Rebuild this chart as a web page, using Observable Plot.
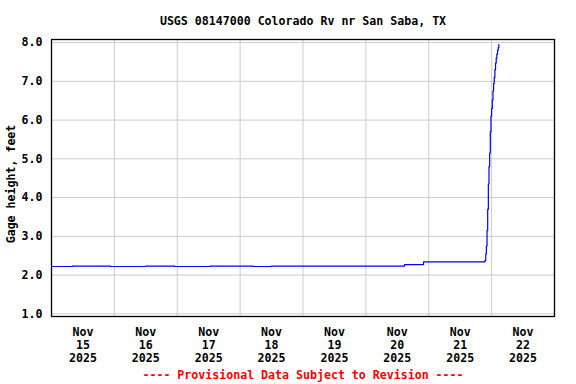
<!DOCTYPE html>
<html>
<head>
<meta charset="utf-8">
<script src="https://cdn.jsdelivr.net/npm/d3@7"></script>
<script src="https://cdn.jsdelivr.net/npm/@observablehq/plot@0.6"></script>
<style>
  html, body { margin: 0; padding: 0; background: #fff; }
</style>
</head>
<body>
<div id="chart"></div>
<script>
// ---- Data, UTC timestamps ----
const times = [
  "2025-11-15T00:00", "2025-11-15T08:00", "2025-11-15T22:30", "2025-11-16T12:00",
  "2025-11-16T23:00", "2025-11-17T12:30", "2025-11-18T05:00", "2025-11-18T12:00",
  "2025-11-20T14:45", "2025-11-20T22:00",
  "2025-11-21T21:00", "2025-11-21T21:15", "2025-11-21T21:30", "2025-11-21T21:45",
  "2025-11-21T22:00", "2025-11-21T22:15", "2025-11-21T22:30", "2025-11-21T22:45",
  "2025-11-21T23:00", "2025-11-21T23:15", "2025-11-21T23:30", "2025-11-21T23:45",
  "2025-11-22T00:00", "2025-11-22T00:15", "2025-11-22T00:30", "2025-11-22T00:45",
  "2025-11-22T01:00", "2025-11-22T01:15", "2025-11-22T01:30", "2025-11-22T01:45",
  "2025-11-22T02:00", "2025-11-22T02:15", "2025-11-22T02:30", "2025-11-22T02:45"
];
const values = [
  2.22, 2.23, 2.22, 2.23,
  2.22, 2.23, 2.22, 2.23,
  2.27, 2.34,
  2.34, 2.35, 2.38, 2.55,
  2.75, 3.15, 3.70, 4.35,
  4.80, 5.15, 5.70, 6.10,
  6.30, 6.52, 6.75, 6.95,
  7.10, 7.30, 7.47, 7.60,
  7.70, 7.80, 7.87, 7.95
];
const xTickDays = ["2025-11-15", "2025-11-16", "2025-11-17", "2025-11-18",
                   "2025-11-19", "2025-11-20", "2025-11-21", "2025-11-22"];
const xGridDays = ["2025-11-15", "2025-11-16", "2025-11-17", "2025-11-18",
                   "2025-11-19", "2025-11-20", "2025-11-21", "2025-11-22", "2025-11-23"];
const yTicks = [1, 2, 3, 4, 5, 6, 7, 8];
const titleText = "USGS 08147000 Colorado Rv nr San Saba, TX";
const yLabelText = "Gage height, feet";
const footerText = "---- Provisional Data Subject to Revision ----";

// ---- Build table ----
const data = times.map((t, i) => ({ date: new Date(t + ":00Z"), value: values[i] }));
const tickDates = xTickDays.map(d => new Date(d + "T12:00:00Z"));
const gridDates = xGridDays.map(d => new Date(d + "T00:00:00Z"));
const fmtX = d3.utcFormat("%b\n%-d\n%Y");

const font = "DejaVu Sans Mono, monospace";

const chart = Plot.plot({
  width: 576,
  height: 384,
  marginTop: 39,
  marginBottom: 68,
  marginLeft: 51,
  marginRight: 22,
  style: { fontFamily: font, fontSize: "11.6px", fontWeight: "bold", background: "#fff", color: "#000" },
  x: { type: "utc", domain: [gridDates[0], gridDates[gridDates.length - 1]] },
  y: { domain: [0.93, 8.08] },
  marks: [
    Plot.gridX(gridDates, { stroke: "#cccccc", strokeOpacity: 1, strokeWidth: 1 }),
    Plot.gridY(yTicks, { stroke: "#cccccc", strokeOpacity: 1, strokeWidth: 1 }),
    Plot.line(data, { x: "date", y: "value", stroke: "#0000ff", strokeWidth: 1.2, curve: "step-after" }),
    Plot.frame({ stroke: "#000", strokeWidth: 1.3 }),
    Plot.axisX(tickDates, { tickSize: 0, tickPadding: 11, tickFormat: fmtX, lineHeight: 1.09, label: null }),
    Plot.axisY(yTicks, { tickSize: 0, tickPadding: 9, tickFormat: d3.format(".1f"), label: null }),
    Plot.text([titleText], { frameAnchor: "top", dy: -18.5, lineAnchor: "middle", fill: "#000" }),
    Plot.text([footerText], { frameAnchor: "bottom", dy: 59, lineAnchor: "middle", fill: "#ff0000" }),
    Plot.text([yLabelText], { frameAnchor: "left", dx: -40, dy: 6, rotate: -90, lineAnchor: "middle", textAnchor: "middle", fill: "#000" })
  ]
});
document.getElementById("chart").appendChild(chart);
</script>
</body>
</html>
